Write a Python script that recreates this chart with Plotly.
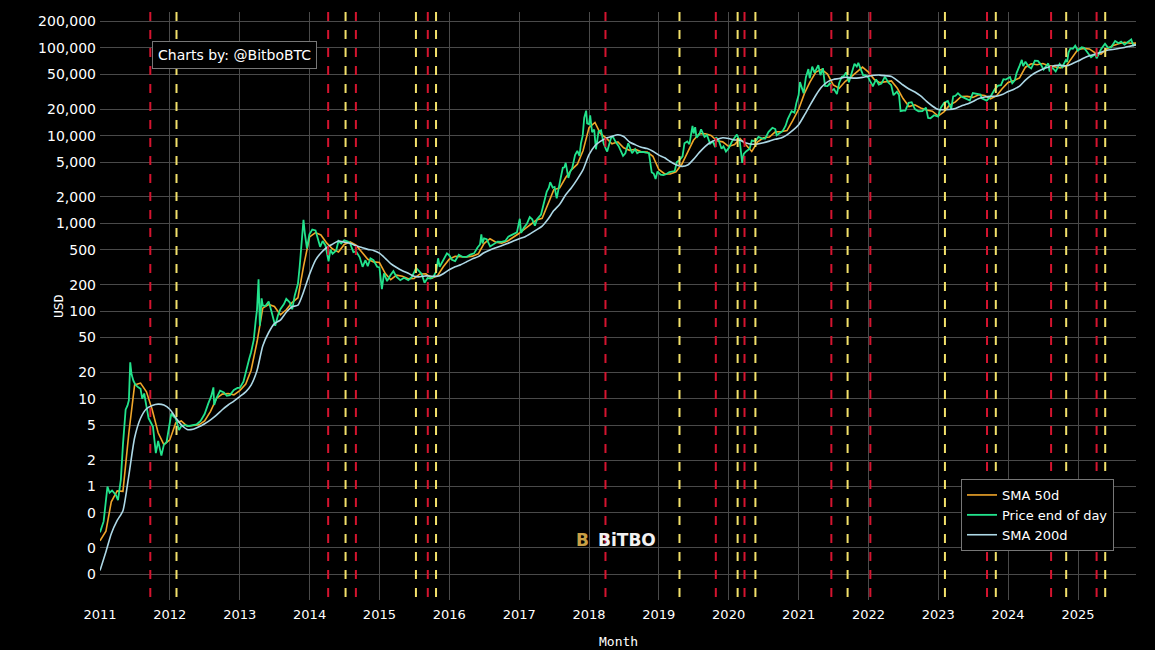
import plotly.graph_objects as go
import pandas as pd

# ---------------- data ----------------
price_dates = [
    "2011-01-01","2011-01-20","2011-02-09","2011-02-20","2011-03-05","2011-03-25","2011-04-05","2011-04-20",
    "2011-05-01","2011-05-15","2011-05-25","2011-06-01","2011-06-08","2011-06-15","2011-06-25","2011-07-05",
    "2011-07-20","2011-08-01","2011-08-10","2011-08-20","2011-09-01","2011-09-12","2011-09-25","2011-10-05",
    "2011-10-20","2011-11-01","2011-11-18","2011-12-01","2011-12-15","2012-01-01","2012-01-09","2012-01-20",
    "2012-02-01","2012-02-18","2012-03-01","2012-03-20","2012-04-10","2012-05-01","2012-05-20","2012-06-10",
    "2012-07-01","2012-07-20","2012-08-05","2012-08-16","2012-08-20","2012-09-01","2012-09-20","2012-10-10",
    "2012-10-25","2012-11-10","2012-12-01","2012-12-20","2013-01-01","2013-01-20","2013-02-01","2013-02-20",
    "2013-03-01","2013-03-15","2013-03-25","2013-04-01","2013-04-09","2013-04-16","2013-04-25","2013-05-01",
    "2013-05-15","2013-06-01","2013-06-15","2013-07-05","2013-07-20","2013-08-01","2013-08-20","2013-09-01",
    "2013-09-20","2013-10-02","2013-10-15","2013-11-01","2013-11-10","2013-11-18","2013-11-30","2013-12-07",
    "2013-12-18","2013-12-31","2014-01-15","2014-02-01","2014-02-25","2014-03-10","2014-03-25","2014-04-10",
    "2014-04-20","2014-05-01","2014-05-20","2014-06-01","2014-06-15","2014-07-01","2014-07-20","2014-08-01",
    "2014-08-18","2014-09-01","2014-09-20","2014-10-05","2014-10-20","2014-11-01","2014-11-15","2014-12-01",
    "2014-12-20","2015-01-01","2015-01-14","2015-01-25","2015-02-10","2015-03-01","2015-03-15","2015-04-01",
    "2015-04-20","2015-05-10","2015-06-01","2015-06-20","2015-07-12","2015-07-25","2015-08-10","2015-08-25",
    "2015-09-10","2015-09-25","2015-10-10","2015-10-25","2015-11-04","2015-11-12","2015-11-25","2015-12-10",
    "2015-12-20","2016-01-01","2016-01-15","2016-02-01","2016-02-20","2016-03-10","2016-04-01","2016-04-20",
    "2016-05-10","2016-05-28","2016-06-10","2016-06-17","2016-06-23","2016-07-01","2016-07-15","2016-08-02",
    "2016-08-20","2016-09-10","2016-10-01","2016-10-20","2016-11-05","2016-11-20","2016-12-05","2016-12-20",
    "2017-01-04","2017-01-11","2017-01-25","2017-02-10","2017-02-25","2017-03-10","2017-03-24","2017-04-05",
    "2017-04-25","2017-05-10","2017-05-25","2017-06-05","2017-06-12","2017-06-25","2017-07-05","2017-07-16",
    "2017-07-25","2017-08-05","2017-08-17","2017-08-25","2017-09-01","2017-09-15","2017-09-25","2017-10-05",
    "2017-10-20","2017-11-01","2017-11-12","2017-11-20","2017-11-29","2017-12-07","2017-12-17","2017-12-22",
    "2018-01-01","2018-01-07","2018-01-17","2018-01-28","2018-02-06","2018-02-20","2018-03-05","2018-03-18",
    "2018-04-01","2018-04-06","2018-04-25","2018-05-05","2018-05-20","2018-06-05","2018-06-28","2018-07-10",
    "2018-07-25","2018-08-14","2018-08-30","2018-09-10","2018-09-20","2018-10-10","2018-10-25","2018-11-10",
    "2018-11-20","2018-11-25","2018-12-05","2018-12-15","2018-12-25","2019-01-10","2019-01-25","2019-02-10",
    "2019-02-25","2019-03-10","2019-03-25","2019-04-05","2019-04-20","2019-05-05","2019-05-15","2019-05-30",
    "2019-06-10","2019-06-26","2019-07-02","2019-07-10","2019-07-17","2019-08-01","2019-08-10","2019-08-28",
    "2019-09-10","2019-09-26","2019-10-10","2019-10-23","2019-10-27","2019-11-10","2019-11-25","2019-12-05",
    "2019-12-18","2020-01-01","2020-01-20","2020-02-13","2020-02-28","2020-03-12","2020-03-20","2020-04-01",
    "2020-04-20","2020-05-01","2020-05-10","2020-05-25","2020-06-05","2020-06-25","2020-07-10","2020-07-27",
    "2020-08-17","2020-09-01","2020-09-08","2020-09-25","2020-10-10","2020-10-25","2020-11-05","2020-11-25",
    "2020-12-10","2020-12-20","2021-01-01","2021-01-08","2021-01-27","2021-02-08","2021-02-21","2021-02-28",
    "2021-03-13","2021-03-25","2021-04-14","2021-04-25","2021-05-08","2021-05-19","2021-06-01","2021-06-15",
    "2021-06-22","2021-07-05","2021-07-20","2021-08-01","2021-08-15","2021-08-25","2021-09-06","2021-09-21",
    "2021-10-01","2021-10-20","2021-11-01","2021-11-09","2021-11-20","2021-12-04","2021-12-15","2021-12-31",
    "2022-01-10","2022-01-24","2022-02-10","2022-02-24","2022-03-10","2022-03-28","2022-04-15","2022-04-30",
    "2022-05-12","2022-05-30","2022-06-10","2022-06-18","2022-07-01","2022-07-13","2022-07-30","2022-08-15",
    "2022-09-01","2022-09-20","2022-10-10","2022-10-29","2022-11-09","2022-11-21","2022-12-10","2022-12-31",
    "2023-01-15","2023-02-01","2023-02-20","2023-03-10","2023-03-20","2023-04-01","2023-04-14","2023-05-01",
    "2023-05-20","2023-06-15","2023-07-01","2023-07-20","2023-08-10","2023-08-17","2023-09-11","2023-10-01",
    "2023-10-24","2023-11-10","2023-11-25","2023-12-08","2023-12-20","2024-01-11","2024-01-23","2024-02-05",
    "2024-02-15","2024-03-01","2024-03-13","2024-03-20","2024-04-01","2024-04-17","2024-05-01","2024-05-20",
    "2024-06-05","2024-06-20","2024-07-05","2024-07-29","2024-08-05","2024-08-20","2024-09-06","2024-09-27",
    "2024-10-10","2024-10-29","2024-11-05","2024-11-12","2024-11-22","2024-12-05","2024-12-17","2024-12-31",
    "2025-01-20","2025-02-01","2025-02-27","2025-03-10","2025-04-01","2025-04-08","2025-05-01","2025-05-22",
    "2025-06-05","2025-06-22","2025-07-14","2025-08-01","2025-08-14","2025-09-01","2025-09-15","2025-10-06",
    "2025-10-17","2025-10-31",
]
price_values = [
    0.30, 0.40, 1.00, 0.85, 0.90, 0.80, 0.70, 1.20,
    3.0, 7.5, 8.4, 9.6, 26, 19, 16, 14.5,
    13.5, 13.0, 10, 11.5, 8.2, 6.0, 5.3, 4.8,
    2.4, 3.3, 2.25, 3.0, 3.2, 5.2, 6.8, 6.3,
    6.0, 4.4, 4.9, 5.0, 4.9, 5.0, 5.1, 5.6,
    6.7, 8.8, 10.8, 13.5, 8.5, 10.2, 12.4, 11.8,
    10.8, 11.0, 12.6, 13.3, 13.3, 15.7, 20.4, 29,
    34, 47, 78, 104, 230, 68, 140, 116,
    114, 129, 100, 68, 90, 105, 120, 138,
    125, 105, 150, 205, 320, 560, 1100, 770,
    520, 750, 850, 830, 540, 630, 560, 370,
    500, 450, 490, 630, 590, 640, 620, 590,
    470, 480, 410, 320, 380, 325, 400, 380,
    320, 315, 178, 270, 220, 260, 285, 245,
    225, 240, 225, 245, 310, 290, 265, 210,
    238, 235, 245, 285, 400, 320, 360, 420,
    455, 434, 385, 372, 438, 415, 416, 440,
    455, 530, 575, 750, 590, 675, 660, 545,
    580, 620, 615, 630, 705, 730, 760, 790,
    1130, 780, 890, 990, 1180, 1110, 940, 1120,
    1260, 1750, 2300, 2550, 2950, 2550, 2600, 1930,
    2550, 3230, 4300, 4350, 4900, 3300, 3900, 4250,
    6000, 6700, 5900, 8200, 10000, 16000, 19300, 13800,
    13500, 17000, 11000, 11700, 7000, 11200, 11500, 8200,
    6900, 6600, 9300, 9800, 8500, 7600, 5900, 6300,
    8200, 6300, 7000, 6300, 6500, 6550, 6400, 6350,
    4500, 3800, 3700, 3200, 3900, 3600, 3550, 3650,
    3850, 3900, 3950, 5000, 5300, 5800, 8200, 8600,
    8000, 12900, 10600, 12500, 9500, 10400, 11800, 9700,
    10150, 8100, 8600, 7400, 9550, 8800, 7100, 7550,
    6600, 7200, 8700, 10300, 8700, 4900, 6200, 6600,
    7100, 8800, 8700, 8900, 9700, 9250, 9250, 11000,
    12300, 11900, 10100, 10700, 11300, 13000, 15500, 19000,
    18300, 23500, 29000, 40800, 30400, 46400, 57500, 45200,
    61200, 52300, 63500, 49000, 58800, 37000, 36700, 40000,
    32500, 34000, 29800, 39900, 47000, 47700, 52700, 40700,
    48200, 66000, 61300, 67500, 58600, 49000, 48900, 46300,
    41800, 36600, 43900, 38300, 39300, 47100, 40500, 37700,
    28900, 31700, 29000, 19000, 19300, 19300, 23700, 24100,
    20100, 19000, 19100, 20800, 15900, 15800, 17100, 16500,
    20900, 23700, 24800, 20200, 28000, 28500, 30500, 28000,
    26800, 25100, 30600, 29900, 29400, 26600, 25100, 27900,
    34000, 37300, 37700, 44000, 43600, 46600, 39500, 42700,
    52000, 62400, 73100, 62000, 69700, 61300, 58300, 71400,
    71100, 65000, 56700, 66800, 54000, 59500, 53900, 65800,
    60300, 72700, 69400, 88700, 98900, 98000, 106100, 93400,
    102000, 100600, 84700, 78500, 85100, 76300, 96500, 111700,
    101500, 101000, 119800, 113300, 118300, 109200, 115300, 124700,
    106500, 110000,
]

# moving averages read at the first day of each month (plus the last day)
sma_dates = list(pd.date_range("2011-01-01", "2025-10-01", freq="MS").strftime("%Y-%m-%d")) + ["2025-10-31"]
sma50_values = [
    0.24, 0.31, 0.67, 0.89, 0.88, 4.1, 14.4, 15.1, 12.0, 7.5, 4.1, 3.0,
    3.4, 5.3, 5.6, 4.86, 4.95, 5.05, 5.6, 7.2, 10.1, 11.3, 11.5, 11.1,
    12.4, 14.7, 21.2, 44.4, 108, 119, 113, 90.7, 103.6, 125, 142, 330,
    700, 785, 738, 595, 510, 472, 574, 616, 564, 470, 390, 364,
    358, 268, 228, 257, 249, 234, 236, 265, 266, 237, 253, 320,
    390, 421, 416, 413, 423, 450, 588, 668, 610, 595, 628, 690,
    772, 870, 966, 1092, 1140, 1650, 2420, 2538, 3330, 4080, 4730, 6780,
    12340, 14140, 10600, 9380, 8060, 8500, 7280, 6810, 7000, 6540, 6500, 5820,
    4118, 3670, 3656, 3874, 4712, 6500, 8860, 10560, 10510, 10060, 8740, 8500,
    7535, 7944, 9270, 7830, 6600, 8500, 9460, 9650, 11050, 11100, 11440, 14820,
    19980, 30510, 40720, 53100, 57000, 50420, 37880, 34690, 41380, 46400, 52560, 60500,
    52990, 43660, 40280, 41430, 42100, 34730, 26500, 21500, 22500, 20680, 19600, 19020,
    16750, 18820, 22290, 24240, 28000, 28070, 27300, 29240, 28680, 26320, 28360, 34300,
    40410, 42500, 45600, 60340, 66000, 64300, 66400, 62830, 61210, 59200, 62860, 78400,
    96410, 98930, 97480, 87800, 85200, 98060, 105700, 111700, 116140, 113200, 113500,
]
sma200_values = [
    0.11, 0.18, 0.29, 0.41, 0.53, 1.35, 3.6, 6.0, 7.7, 8.4, 8.7, 8.5,
    7.6, 6.1, 5.06, 4.47, 4.5, 4.8, 5.2, 5.75, 6.5, 7.5, 8.5, 9.4,
    10.6, 12.0, 14.3, 21, 40, 57, 72, 79, 97, 112, 117, 167,
    264, 382, 460, 531, 580, 630, 611, 592, 554, 530, 505, 491,
    458, 399, 348, 314, 289, 270, 249, 246, 252, 250, 249, 267,
    296, 320, 338, 365, 394, 418, 463, 498, 527, 556, 588, 630,
    669, 705, 763, 843, 931, 1121, 1399, 1653, 2116, 2551, 3198, 4099,
    6068, 7690, 8615, 9360, 9820, 10240, 9780, 8470, 7850, 7390, 7120, 6640,
    6000, 5590, 5076, 4670, 4470, 4630, 5370, 6450, 7560, 8480, 9060, 9470,
    9290, 8940, 8870, 8240, 7995, 8050, 8310, 8670, 9095, 9390, 10230, 11470,
    13340, 17230, 22150, 28930, 35860, 41055, 43750, 44800, 46310, 45560, 45280, 46240,
    47740, 48790, 49065, 48170, 47175, 42500, 37830, 34050, 31510, 28440, 24545, 21785,
    19860, 19790, 19850, 20420, 21860, 22950, 24580, 26565, 27600, 28040, 28200, 29390,
    31835, 33850, 36630, 42950, 48690, 53600, 57670, 60520, 63125, 63285, 62545, 66020,
    70850, 76820, 81380, 85390, 89150, 94315, 95910, 98580, 101340, 104930, 108500,
]

red_event_dates = ["2011-09-21", "2014-04-08", "2014-08-31", "2015-09-11", "2018-03-28",
                   "2019-10-26", "2020-03-24", "2021-06-21", "2022-01-11", "2023-09-13",
                   "2024-08-13", "2025-04-08"]
yellow_event_dates = ["2012-02-05", "2014-07-08", "2015-07-11", "2015-10-24", "2019-04-19",
                      "2020-02-17", "2020-05-20", "2021-09-14", "2023-02-05", "2023-10-29",
                      "2024-10-31", "2025-05-23"]

y_tick_values = [0.1, 0.2, 0.5, 1, 2, 5, 10, 20, 50, 100, 200, 500, 1000, 2000, 5000,
                 10000, 20000, 50000, 100000, 200000]
y_tick_labels = ["0", "0", "0", "1", "2", "5", "10", "20", "50", "100", "200", "500",
                 "1,000", "2,000", "5,000", "10,000", "20,000", "50,000", "100,000", "200,000"]

# ---------------- figure ----------------
FONT = "DejaVu Sans"
MONO = "DejaVu Sans Mono"

fig = go.Figure()
fig.add_trace(go.Scatter(x=sma_dates, y=sma50_values, name="SMA 50d", mode="lines",
                         line=dict(color="#f0a62a", width=1.6)))
fig.add_trace(go.Scatter(x=price_dates, y=price_values, name="Price end of day", mode="lines",
                         line=dict(color="#22e38c", width=1.8)))
fig.add_trace(go.Scatter(x=sma_dates, y=sma200_values, name="SMA 200d", mode="lines",
                         line=dict(color="#add8e6", width=1.6, shape="spline", smoothing=0.6)))

for d in red_event_dates:
    fig.add_shape(type="line", xref="x", yref="paper", x0=d, x1=d, y0=1, y1=0,
                  line=dict(color="#d4142f", width=2, dash="9px,9px"), layer="above")
for d in yellow_event_dates:
    fig.add_shape(type="line", xref="x", yref="paper", x0=d, x1=d, y0=1, y1=0,
                  line=dict(color="#f2e06a", width=2, dash="9px,9px"), layer="above")

fig.add_annotation(xref="paper", yref="paper", x=(152 - 100) / 1036, y=(600 - 41) / 588,
                   xanchor="left", yanchor="top", showarrow=False,
                   text="Charts by: @BitboBTC", font=dict(family=FONT, size=14, color="#ffffff"),
                   bgcolor="#000000", bordercolor="#777777", borderwidth=1, borderpad=5)
fig.add_annotation(xref="paper", yref="paper", x=(58 - 100) / 1036, y=0.5, textangle=-90,
                   xanchor="center", yanchor="middle",
                   showarrow=False, text="USD", font=dict(family=MONO, size=13, color="#ffffff"))
fig.add_annotation(xref="paper", yref="paper", x=0.5, y=(600 - 641) / 588, xanchor="center",
                   yanchor="middle",
                   showarrow=False, text="Month", font=dict(family=MONO, size=13, color="#ffffff"))
fig.add_annotation(xref="paper", yref="paper", x=(582 - 100) / 1036, y=(600 - 552) / 588,
                   xanchor="center", showarrow=False, text="<b>B</b>",
                   font=dict(family=FONT, size=17, color="#c9a046"))
fig.add_annotation(xref="paper", yref="paper", x=(627 - 100) / 1036, y=(600 - 552) / 588,
                   xanchor="center", showarrow=False, text="<b>BiTBO</b>",
                   font=dict(family=FONT, size=17, color="#f2f2f2"))

fig.update_layout(
    width=1155, height=650,
    margin=dict(l=100, r=19, t=12, b=50),
    paper_bgcolor="#000000", plot_bgcolor="#000000",
    font=dict(family=FONT, color="#ffffff", size=13),
    showlegend=True,
    legend=dict(x=(1114 - 100) / 1036, xanchor="right", y=(600 - 551) / 588, yanchor="bottom",
                bgcolor="#000000", bordercolor="#777777", borderwidth=1,
                font=dict(family=FONT, size=13, color="#ffffff"), tracegroupgap=0),
)
fig.update_xaxes(type="date", range=["2011-01-01", "2025-10-31"], dtick="M12", tickformat="%Y",
                 showgrid=True, gridcolor="#4a4a4a", gridwidth=1, zeroline=False, showline=False,
                 tickfont=dict(family=FONT, size=13, color="#ffffff"), ticks="",
                 ticklabelstandoff=5)
fig.update_yaxes(type="log", range=[-1.294, 5.41], tickvals=y_tick_values, ticktext=y_tick_labels,
                 showgrid=True, gridcolor="#4a4a4a", gridwidth=1, zeroline=False, showline=False,
                 tickfont=dict(family=FONT, size=14, color="#ffffff"), ticks="",
                 ticklabelstandoff=3)

fig.write_html("out.html", config={"displayModeBar": False},
               post_script="document.body.style.margin='0';")
